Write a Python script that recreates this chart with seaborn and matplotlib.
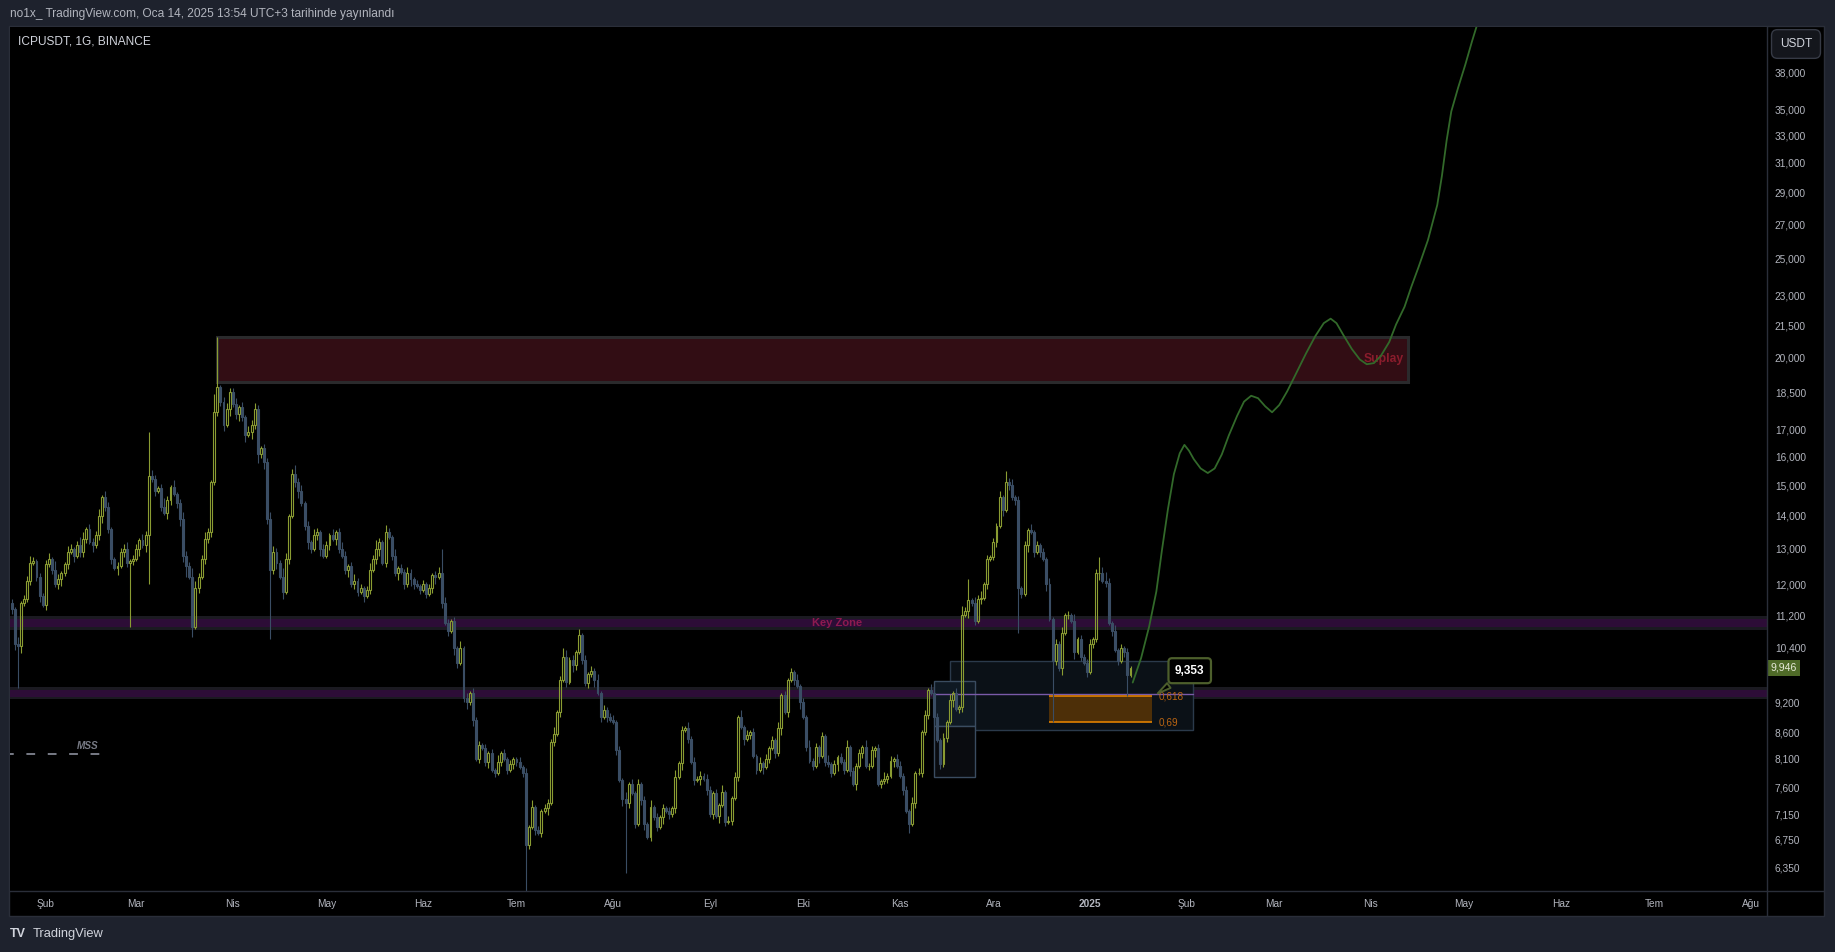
import numpy as np
import pandas as pd
import matplotlib
matplotlib.use("Agg")
import matplotlib.pyplot as plt
import matplotlib.dates as mdates
import matplotlib.transforms as mtransforms
from matplotlib.patches import Rectangle
from matplotlib.lines import Line2D
from matplotlib.ticker import NullLocator
import seaborn as sns

# ---- ICPUSDT daily closes, 2024-01-21 -> 2025-01-14
first_open = 11.5
close_jan24 = [11.35, 10.5, 10.45, 11.5, 11.6, 12.1, 12.6, 12.65, 12.2, 11.7, 11.45]
close_feb24 = [12.55, 12.7, 12.4, 12.0, 12.15, 12.3, 12.55, 12.9, 13.0, 12.8,
               13.1, 12.9, 13.3, 13.6, 13.2, 13.1, 13.4, 14.0, 14.6, 14.3,
               13.6, 12.7, 12.45, 12.5, 12.9, 13.0, 12.6, 12.65, 12.7]
close_mar24 = [13.0, 13.25, 13.1, 13.4, 15.3, 15.2, 14.8, 14.9, 14.3, 14.1,
               14.5, 14.95, 14.7, 14.4, 13.9, 12.8, 12.5, 12.2, 10.9, 11.9,
               12.2, 12.7, 13.3, 13.5, 15.1, 17.7, 18.7, 18.1, 17.2, 17.8, 18.5]
close_apr24 = [18.0, 17.6, 17.9, 17.5, 16.8, 16.9, 17.2, 17.8, 16.1, 16.3,
               15.8, 13.9, 12.4, 12.9, 12.6, 12.2, 11.8, 12.7, 14.0, 15.4,
               15.1, 14.8, 14.4, 13.7, 13.2, 13.0, 13.4, 13.5, 13.0, 12.8]
close_may24 = [13.1, 13.4, 13.3, 13.5, 13.0, 12.8, 12.4, 12.5, 12.0, 12.1,
               11.8, 11.9, 11.7, 11.85, 12.4, 12.7, 13.0, 13.2, 12.6, 13.5,
               13.35, 12.8, 12.3, 12.45, 12.35, 12.0, 12.3, 12.15, 12.0, 11.95, 11.85]
close_jun24 = [12.0, 11.75, 11.9, 12.25, 12.2, 12.3, 11.5, 11.0, 10.8, 11.05,
               10.4, 10.05, 10.4, 9.3, 9.2, 9.4, 8.85, 8.1, 8.35, 8.3,
               8.05, 8.2, 7.9, 7.85, 8.05, 8.2, 8.1, 7.9, 8.0, 8.1]
close_jul24 = [8.05, 7.95, 7.85, 6.68, 6.95, 7.27, 6.9, 6.86, 7.2, 7.25,
               7.33, 8.42, 8.57, 9.0, 9.67, 10.2, 9.63, 10.13, 10.0, 10.3,
               10.7, 10.13, 9.6, 9.8, 9.88, 9.67, 9.4, 8.9, 9.05, 8.9, 8.85]
close_aug24 = [8.8, 8.26, 7.72, 7.4, 7.33, 7.66, 7.5, 7.0, 7.66, 7.38,
               7.0, 6.8, 7.27, 7.1, 6.95, 7.1, 7.25, 7.2, 7.15, 7.25,
               7.78, 8.02, 8.64, 8.68, 8.48, 8.05, 7.72, 7.75, 7.8, 7.75, 7.55]
close_sep24 = [7.15, 7.5, 7.12, 7.3, 7.52, 7.03, 7.05, 7.42, 7.78, 8.9,
               8.7, 8.48, 8.55, 8.6, 8.15, 7.9, 8.02, 7.95, 8.1, 8.3,
               8.45, 8.2, 8.68, 9.35, 9.0, 9.67, 9.85, 9.67, 9.55, 9.2]
close_oct24 = [8.9, 8.32, 8.07, 7.98, 8.32, 8.15, 8.53, 8.05, 8.0, 7.85,
               8.0, 8.13, 8.05, 7.9, 8.32, 7.88, 7.66, 7.98, 8.2, 8.32,
               7.98, 7.98, 8.26, 8.3, 7.66, 7.7, 7.75, 7.8, 8.07, 8.1, 7.98]
close_nov24 = [7.8, 7.55, 7.2, 7.0, 7.33, 7.85, 7.85, 8.6, 8.95, 9.45,
               9.4, 8.9, 8.45, 8.0, 8.5, 8.8, 9.24, 9.4, 9.07, 9.1,
               11.2, 11.3, 11.58, 11.5, 11.05, 11.6, 11.65, 12.0, 12.7, 12.75]
close_dec24 = [13.2, 13.7, 14.6, 14.2, 15.1, 15.0, 14.6, 14.5, 11.9, 11.75,
               13.1, 13.55, 13.5, 12.9, 13.1, 12.9, 12.7, 12.0, 11.1, 10.1,
               10.5, 9.93, 10.75, 11.2, 11.2, 11.05, 10.3, 10.6, 10.2, 10.05, 9.85]
close_jan25 = [10.5, 10.6, 12.3, 12.3, 12.1, 12.05, 11.0, 10.8, 10.35, 10.1,
               10.4, 10.3, 9.78, 9.946]

# wick lengths beyond the body, in half-percent steps (one digit per day)
wick_up = ["2131223212" "1",
           "2314211321" "2431222313" "211222312",
           "2132632124" "2131232243" "22321851232",
           "2312132321" "2233214312" "4231213212",
           "2131232123" "1212324213" "21312132121",
           "2121231321" "2131212121" "2121312121",
           "1212131212" "2131243121" "31212131212",
           "2121312121" "2131212121" "31213121212",
           "2121312121" "3121213121" "2131212131",
           "2131212131" "2121312121" "31212131212",
           "2121312121" "3121213121" "4231323121",
           "2131423121" "2131212131" "21312131212",
           "2121342131" "2121"]
wick_dn = ["2303112123" "1",
           "2121231213" "1222131232" "221312212",
           "1313512121" "3212335121" "21222122313",
           "1232313242" "3212313121" "2312321231",
           "1213212312" "2131212312" "12131213212",
           "1212312121" "3212313121" "2312121212",
           "2121212121" "3121212132" "12121312121",
           "1213121212" "3121213121" "21312121312",
           "1213121212" "1312121312" "1213121213",
           "1212131212" "1312121312" "12131212131",
           "1213121212" "1312121312" "2131212121",
           "1213121232" "1312121312" "21312131212",
           "1213121212" "1231"]

# long wicks read directly
ovr_dates = ["2024-01-23", "2024-02-28", "2024-03-05", "2024-03-19", "2024-03-27",
             "2024-04-13", "2024-06-07", "2024-07-04", "2024-08-05", "2024-11-04",
             "2024-11-23", "2024-12-05", "2024-12-09", "2024-12-20", "2025-01-04",
             "2025-01-13"]
ovr_high = [np.nan, np.nan, 16.9, np.nan, 20.95, np.nan, 13.0, np.nan, np.nan, np.nan,
            12.15, 15.5, np.nan, np.nan, 12.75, np.nan]
ovr_low = [9.5, 10.9, 12.0, 10.65, np.nan, 10.6, np.nan, 6.02, 6.27, 6.86,
           np.nan, np.nan, 10.75, 8.8, np.nan, 9.33]

# projected path (green line)
proj_dates = ["2025-01-14 17:00", "2025-01-17 10:00", "2025-01-20 00:00", "2025-01-22 07:00",
              "2025-01-24 02:00", "2025-01-26 00:00", "2025-01-27 22:00", "2025-01-29 19:00",
              "2025-01-31 07:00", "2025-02-01 19:00", "2025-02-03 07:00", "2025-02-05 12:00",
              "2025-02-07 19:00", "2025-02-10 00:00", "2025-02-12 07:00", "2025-02-14 12:00",
              "2025-02-17 05:00", "2025-02-19 10:00", "2025-02-21 17:00", "2025-02-23 22:00",
              "2025-02-26 05:00", "2025-02-28 10:00", "2025-03-02 17:00", "2025-03-05 07:00",
              "2025-03-08 07:00", "2025-03-11 07:00", "2025-03-14 07:00", "2025-03-17 00:00",
              "2025-03-19 05:00", "2025-03-21 02:00", "2025-03-23 07:00", "2025-03-26 00:00",
              "2025-03-28 14:00", "2025-03-30 19:00", "2025-04-02 02:00", "2025-04-04 07:00",
              "2025-04-07 00:00", "2025-04-09 05:00", "2025-04-11 22:00", "2025-04-14 02:00",
              "2025-04-16 10:00", "2025-04-19 10:00", "2025-04-22 10:00", "2025-04-23 22:00",
              "2025-04-25 10:00", "2025-04-26 22:00", "2025-04-29 02:00", "2025-05-01 10:00",
              "2025-05-03 14:00", "2025-05-05 02:00"]
proj_price = [9.62, 10.17, 10.92, 11.81, 12.96, 14.21, 15.38, 16.12, 16.43, 16.21,
              15.91, 15.58, 15.42, 15.58, 16.08, 16.77, 17.54, 18.11, 18.35, 18.25,
              17.92, 17.68, 17.97, 18.54, 19.34, 20.18, 20.99, 21.61, 21.83, 21.61,
              21.04, 20.39, 19.91, 19.70, 19.75, 20.07, 20.71, 21.55, 22.42, 23.45,
              24.52, 26.05, 28.20, 30.12, 32.60, 34.81, 36.70, 38.68, 40.78, 42.2]

# axis ticks
ytick_vals = [38, 35, 33, 31, 29, 27, 25, 23, 21.5, 20, 18.5, 17, 16, 15, 14, 13, 12,
              11.2, 10.4, 9.2, 8.6, 8.1, 7.6, 7.15, 6.75, 6.35]
ytick_labels = ["38,000", "35,000", "33,000", "31,000", "29,000", "27,000", "25,000", "23,000",
                "21,500", "20,000", "18,500", "17,000", "16,000", "15,000", "14,000", "13,000",
                "12,000", "11,200", "10,400", "9,200", "8,600", "8,100", "7,600", "7,150",
                "6,750", "6,350"]
xtick_dates = ["2024-02-01", "2024-03-01", "2024-04-01", "2024-05-01", "2024-06-01",
               "2024-07-01", "2024-08-01", "2024-09-01", "2024-10-01", "2024-11-01",
               "2024-12-01", "2025-01-01", "2025-02-01", "2025-03-01", "2025-04-01",
               "2025-05-01", "2025-06-01", "2025-07-01", "2025-08-01"]
xtick_labels = ["Şub", "Mar", "Nis", "May", "Haz", "Tem", "Ağu", "Eyl", "Eki", "Kas", "Ara",
                "2025", "Şub", "Mar", "Nis", "May", "Haz", "Tem", "Ağu"]

# ---- style
BG = "#1e222d"
LINE = "#2a2e39"
TXT = "#b2b5be"
UP = "#8a9c32"
DOWN = "#3a4d64"

sns.set_theme(style="dark", rc={"axes.facecolor": "black", "figure.facecolor": BG})
plt.rcParams["font.family"] = ["Liberation Sans", "DejaVu Sans"]

W, H = 1835, 952
fig = plt.figure(figsize=(W / 100, H / 100), dpi=100)


def fx(px):
    return px / W


def fy(py):
    return 1 - py / H


# chart panel frame
fig.add_artist(Rectangle((fx(9), fy(916)), fx(1824) - fx(9), fy(26) - fy(916),
                         transform=fig.transFigure, facecolor="black", edgecolor=LINE,
                         lw=1, zorder=-5))
ax = fig.add_axes([fx(10), fy(891), fx(1767) - fx(10), fy(27) - fy(891)])
ax.set_facecolor("black")
for s in ax.spines.values():
    s.set_visible(False)
fig.add_artist(Line2D([fx(1767)] * 2, [fy(26), fy(916)], transform=fig.transFigure,
                      color=LINE, lw=1, zorder=5))
fig.add_artist(Line2D([fx(9), fx(1824)], [fy(891)] * 2, transform=fig.transFigure,
                      color=LINE, lw=1, zorder=5))

# ---- candles
closes = np.array(close_jan24 + close_feb24 + close_mar24 + close_apr24 + close_may24 +
                  close_jun24 + close_jul24 + close_aug24 + close_sep24 + close_oct24 +
                  close_nov24 + close_dec24 + close_jan25)
dates = pd.date_range("2024-01-21", periods=len(closes), freq="D")
x = mdates.date2num(dates)
opens = np.r_[first_open, closes[:-1]]
up_w = np.array([int(c) for c in "".join(wick_up)]) / 200
dn_w = np.array([int(c) for c in "".join(wick_dn)]) / 200
top = np.maximum(opens, closes)
bot = np.minimum(opens, closes)
highs = top * (1 + up_w)
lows = bot * (1 - dn_w)
for d, h, l in zip(ovr_dates, ovr_high, ovr_low):
    i = dates.get_loc(pd.Timestamp(d))
    if not np.isnan(h):
        highs[i] = h
    if not np.isnan(l):
        lows[i] = l

rising = closes >= opens
cols = np.where(rising, UP, DOWN)
ax.vlines(x, top, highs, colors=cols, lw=0.8, zorder=4)
ax.vlines(x, lows, bot, colors=cols, lw=0.8, zorder=4)
ax.bar(x[rising], (top - bot)[rising], bottom=bot[rising], width=0.62,
       facecolor="none", edgecolor=UP, lw=0.8, zorder=4)
ax.bar(x[~rising], (top - bot)[~rising], bottom=bot[~rising], width=0.62,
       facecolor=DOWN, edgecolor=DOWN, lw=0.8, zorder=4)

d2n = lambda s: mdates.date2num(pd.Timestamp(s))

# ---- key zones
ax.axhspan(10.82, 11.17, color="#1b1a21", lw=0, zorder=1)
ax.axhspan(10.89, 11.09, color="#2d0d37", lw=0, zorder=1.1)
ax.axhspan(9.28, 9.52, color="#1b1a21", lw=0, zorder=1)
ax.axhspan(9.32, 9.45, color="#2d0d37", lw=0, zorder=1.1)
ax.text(d2n("2024-10-12"), 11.0, "Key Zone", color="#8e1a50", fontsize=8,
        fontweight="bold", ha="center", va="center", zorder=2)

# ---- supply box
sx0, sx1 = d2n("2024-03-26 19:00"), d2n("2025-04-13")
ax.add_patch(Rectangle((sx0, 18.93), sx1 - sx0, 20.95 - 18.93, facecolor="#320d14",
                       edgecolor="#2a2a2c", lw=2.2, zorder=1))
ax.text(d2n("2025-04-11 17:00"), 19.95, "Suplay", color="#8a1c2c", fontsize=8.7,
        fontweight="bold", ha="right", va="center", zorder=2)

# ---- fib / order-block boxes
bx0, bx1 = d2n("2024-11-17"), d2n("2025-02-03")
ax.add_patch(Rectangle((bx0, 8.65), bx1 - bx0, 10.09 - 8.65, facecolor="#0b1117",
                       edgecolor="#2b3a4b", lw=1, zorder=1.5))
kx0, kx1 = d2n("2024-11-12"), d2n("2024-11-25")
ax.add_patch(Rectangle((kx0, 8.72), kx1 - kx0, 9.65 - 8.72, facecolor="#0f1923",
                       edgecolor="#3a4c60", lw=1, zorder=1.6))
ax.add_patch(Rectangle((kx0, 7.77), kx1 - kx0, 8.72 - 7.77, facecolor="#0a0c10",
                       edgecolor="#3a4c60", lw=1, zorder=1.6))
ax.plot([kx0, bx1], [9.38, 9.38], color="#7a5aa8", lw=1, zorder=1.7)
ox0, ox1 = d2n("2024-12-19"), d2n("2025-01-21")
ax.add_patch(Rectangle((ox0, 8.80), ox1 - ox0, 9.33 - 8.80, facecolor="#4d2f08",
                       edgecolor="none", zorder=1.8))
ax.hlines([9.33, 8.80], ox0, ox1, color="#e08000", lw=1.2, zorder=1.9)
ax.text(d2n("2025-01-23"), 9.33, "0,618", color="#bb6512", fontsize=7.2, va="center", zorder=3)
ax.text(d2n("2025-01-23"), 8.80, "0,69", color="#bb6512", fontsize=7.2, va="center", zorder=3)

# ---- MSS
ax.plot([d2n("2024-01-19"), d2n("2024-02-18 22:00")], [8.19, 8.19], color="#787b86",
        lw=1.4, ls=(0, (4.5, 6.5)), zorder=3)
ax.text(d2n("2024-02-14 12:00"), 8.33, "MSS", color="#787b86", fontsize=7.2, fontweight="bold",
        fontstyle="italic", ha="center", va="center", zorder=3)

# ---- projection
sns.lineplot(x=mdates.date2num(pd.to_datetime(proj_dates)), y=proj_price, ax=ax,
             color="#32692a", lw=1.3, sort=False, estimator=None, zorder=5)

# ---- callout
ax.annotate("9,353", xy=(d2n("2025-01-22"), 9.353), xytext=(d2n("2025-02-02"), 9.88),
            color="white", fontsize=8.5, fontweight="bold", ha="center", va="center",
            bbox=dict(boxstyle="round,pad=0.55,rounding_size=0.3", fc="black",
                      ec="#4d5f2c", lw=1.6),
            arrowprops=dict(arrowstyle="wedge,tail_width=0.5,shrink_factor=0.5",
                            fc="black", ec="#4d5f2c", lw=1.4),
            zorder=6)

# ---- axes
ax.set_yscale("log")
ax.set_ylim(6.016, 42.1)
ax.set_xlim(d2n("2024-01-20 12:00"), d2n("2025-08-06 05:00"))
ax.grid(False)
ax.yaxis.tick_right()
ax.set_yticks(ytick_vals)
ax.yaxis.set_minor_locator(NullLocator())
ax.set_yticklabels(ytick_labels)
ax.set_xticks(mdates.date2num(pd.to_datetime(xtick_dates)))
ax.xaxis.set_minor_locator(NullLocator())
ax.set_xticklabels(xtick_labels)
ax.get_xticklabels()[11].set_fontweight("bold")
ax.get_xticklabels()[11].set_color("#d1d4dc")
ax.tick_params(axis="y", length=0, pad=5.6, labelsize=7.3, labelcolor=TXT)
ax.tick_params(axis="x", length=0, pad=5.6, labelsize=7.3, labelcolor=TXT)
ax.set_xlabel("")
ax.set_ylabel("")

# last price tag
blend = mtransforms.blended_transform_factory(ax.transAxes, ax.transData)
ax.text(1.0021, 9.946, "9,946", transform=blend, color="#e6e9d8", fontsize=7.6,
        ha="left", va="center", clip_on=False, zorder=7,
        bbox=dict(boxstyle="square,pad=0.3", fc="#4f6a28", ec="none"))

# ---- header / labels
fig.text(fx(10), fy(14), "no1x_ TradingView.com, Oca 14, 2025 13:54 UTC+3 tarihinde yayınlandı",
         color=TXT, fontsize=8.6, ha="left", va="center")
fig.text(fx(18), fy(41.5), "ICPUSDT, 1G, BINANCE", color="#d1d4dc", fontsize=8.6,
         ha="left", va="center")
fig.text(fx(1796), fy(44), "USDT", color="#d1d4dc", fontsize=8.6, ha="center", va="center",
         bbox=dict(boxstyle="round,pad=0.7,rounding_size=0.5", fc="#14161c", ec="#363a45", lw=1))
fig.text(fx(10), fy(934), "TV", color="#d1d4dc", fontsize=9, fontweight="heavy",
         ha="left", va="center")
fig.text(fx(33), fy(934), "TradingView", color="#d1d4dc", fontsize=9.3, ha="left", va="center")

fig.savefig("out.png", dpi=100, facecolor=BG)
